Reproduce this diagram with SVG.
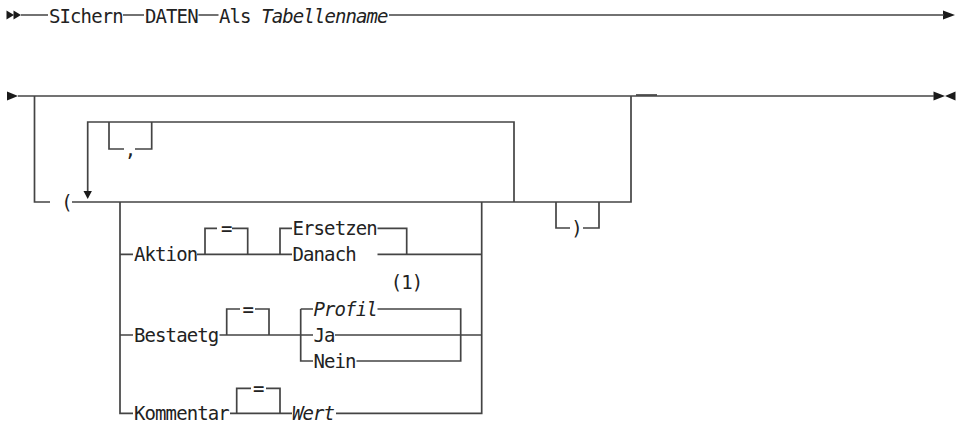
<svg xmlns="http://www.w3.org/2000/svg" width="962" height="421" viewBox="0 0 962 421">
<style>
  .ln { fill: none; stroke: #444; stroke-width: 1.7; stroke-linecap: butt; stroke-linejoin: miter; }
  .tx { font-family: "DejaVu Sans Mono", "Liberation Mono", monospace; font-size: 19px; letter-spacing: -0.9px; fill: #222; }
  .it { font-style: italic; }
  .mid { text-anchor: middle; }
  .tri { fill: #1a1a1a; }
</style>
<rect width="962" height="421" fill="#fff"/>

<g id="terminals">
  <polygon class="tri" points="6.5,10.5 14,15 6.5,19.5"/>
  <polygon class="tri" points="13.5,10.5 21,15 13.5,19.5"/>
  <polygon class="tri" points="943,10.5 955,15 943,19.5"/>
  <polygon class="tri" points="7,91.5 18,96 7,100.5"/>
  <polygon class="tri" points="933.5,91.5 945,96 933.5,100.5"/>
  <polygon class="tri" points="955.5,91.5 945,96 955.5,100.5"/>
</g>

<g id="connectors">
  <!-- row 1 -->
  <path class="ln" d="M21 15H48 M123 15H144 M198.5 15H218.5 M389 15H944"/>
  <!-- row 2 main/bypass -->
  <path class="ln" d="M18 96H934"/>
  <path class="ln" d="M636 95H657"/>
  <path class="ln" d="M34.5 96V202H50"/>
  <path class="ln" d="M72 202H631V96"/>
  <!-- repeat loop -->
  <path class="ln" d="M87.7 193V122H514V202"/>
  <polygon class="tri" points="83.5,191 91.9,191 87.7,199"/>
  <!-- comma box -->
  <path class="ln" d="M109 122V149H124 M135 149H151.7V122"/>
  <!-- optional ) -->
  <path class="ln" d="M556 202V228H570 M583 228H599V202"/>
  <!-- choice block -->
  <path class="ln" d="M120 202V413.3H133 M481.7 202V413.3H336"/>
  <!-- Aktion row -->
  <path class="ln" d="M120 254.3H133 M197 254.3H292 M377.5 254.3H481.7"/>
  <path class="ln" d="M205 254.3V228.3H217 M232 228.3H247.7V254.3"/>
  <path class="ln" d="M280 254.3V228.3H292 M377.5 228.3H406.7V254.3"/>
  <!-- Bestaetg row -->
  <path class="ln" d="M120 335H133 M219.5 335H313 M335 335H481.7"/>
  <path class="ln" d="M226.7 335V309H240 M255 309H269V335"/>
  <path class="ln" d="M300.7 309V361H313 M356.5 361H460.7V309H377.5 M300.7 309H313"/>
  <!-- Kommentar row -->
  <path class="ln" d="M230 413.3H292"/>
  <path class="ln" d="M236.7 413.3V388.3H251 M266 388.3H280V413.3"/>
</g>

<g id="n-sichern"><text class="tx" x="49" y="22.5">SIchern</text></g>
<g id="n-daten"><text class="tx" x="145" y="22.5">DATEN</text></g>
<g id="n-als"><text class="tx" x="219" y="22.5">Als <tspan class="it">Tabellenname</tspan></text></g>

<g id="n-comma"><text class="tx mid" x="130" y="156">,</text></g>
<g id="n-lparen"><text class="tx mid" x="66.5" y="209">(</text></g>
<g id="n-rparen"><text class="tx mid" x="576.5" y="235">)</text></g>

<g id="n-aktion"><text class="tx" x="134" y="261.3">Aktion</text></g>
<g id="n-aktion-eq"><text class="tx mid" x="226.3" y="235.3">=</text></g>
<g id="n-ersetzen"><text class="tx" x="292.5" y="235.3">Ersetzen</text></g>
<g id="n-danach"><text class="tx" x="292.5" y="261.3">Danach</text></g>

<g id="n-note"><text class="tx mid" x="406.5" y="288.5">(1)</text></g>
<g id="n-bestaetg"><text class="tx" x="134" y="342">Bestaetg</text></g>
<g id="n-bestaetg-eq"><text class="tx mid" x="247.8" y="316">=</text></g>
<g id="n-profil"><text class="tx it" x="313.5" y="316">Profil</text></g>
<g id="n-ja"><text class="tx" x="313.5" y="342">Ja</text></g>
<g id="n-nein"><text class="tx" x="313.5" y="368">Nein</text></g>

<g id="n-kommentar"><text class="tx" x="134" y="419.5">Kommentar</text></g>
<g id="n-kommentar-eq"><text class="tx mid" x="258.3" y="395.3">=</text></g>
<g id="n-wert"><text class="tx it" x="292" y="419.5">Wert</text></g>
</svg>
